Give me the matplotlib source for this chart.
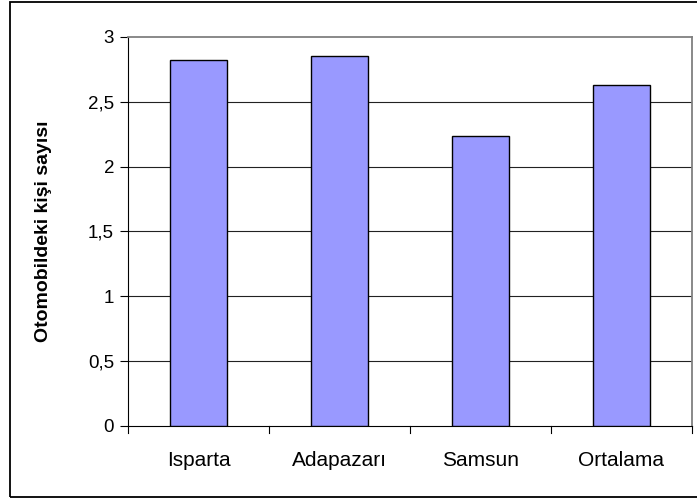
import matplotlib.pyplot as plt
import matplotlib.patches as patches
import numpy as np

plt.rcParams['font.family'] = ['Liberation Sans', 'DejaVu Sans']

# veriler
sehirler = ['Isparta', 'Adapazarı', 'Samsun', 'Ortalama']
kisi_sayisi = [2.82, 2.85, 2.24, 2.63]
y_ticks = [0, 0.5, 1, 1.5, 2, 2.5, 3]
y_tick_labels = ['0', '0,5', '1', '1,5', '2', '2,5', '3']

fig = plt.figure(figsize=(6.97, 4.99), dpi=100)
ax = fig.add_axes([0.1836, 0.1463, 0.8092, 0.7796])

# dış çerçeve (sağ kenar görüntünün dışında kalıyor)
fig.patches.append(patches.Rectangle((0.0145, 0.004), 1.0, 0.992, transform=fig.transFigure,
                                     fill=False, edgecolor='black', linewidth=1.3))

x = np.arange(len(sehirler))
ax.bar(x, kisi_sayisi, width=0.4, color='#9999FF', edgecolor='black', linewidth=1.0, zorder=3)

ax.set_xlim(-0.5, len(sehirler) - 0.5)
ax.set_ylim(0, 3)
ax.set_yticks(y_ticks)
ax.set_yticklabels(y_tick_labels, fontsize=13.5)
ax.set_xticks(x)
ax.set_xticklabels(sehirler, fontsize=15)
ax.tick_params(axis='x', length=0, pad=18)
ax.tick_params(axis='y', length=6, width=0.8, direction='out', pad=4)

# kategori sınırlarındaki çentikler
for b in np.arange(-0.5, len(sehirler), 1.0):
    ax.plot([b, b], [0, -0.055], color='black', linewidth=0.8, clip_on=False)

# yatay ızgara
for yv in y_ticks[1:-1]:
    ax.axhline(yv, color='#222222', linewidth=0.8, zorder=1)

for side in ['top', 'right']:
    ax.spines[side].set_color('#808080')
    ax.spines[side].set_linewidth(1.3)
ax.spines['left'].set_color('black')
ax.spines['bottom'].set_color('black')
ax.spines['left'].set_linewidth(0.8)
ax.spines['bottom'].set_linewidth(0.8)

ax.set_ylabel('Otomobildeki kişi sayısı', fontsize=14, weight='bold')
ax.yaxis.set_label_coords(-0.134, 0.5)

plt.savefig('out.png', dpi=100)
